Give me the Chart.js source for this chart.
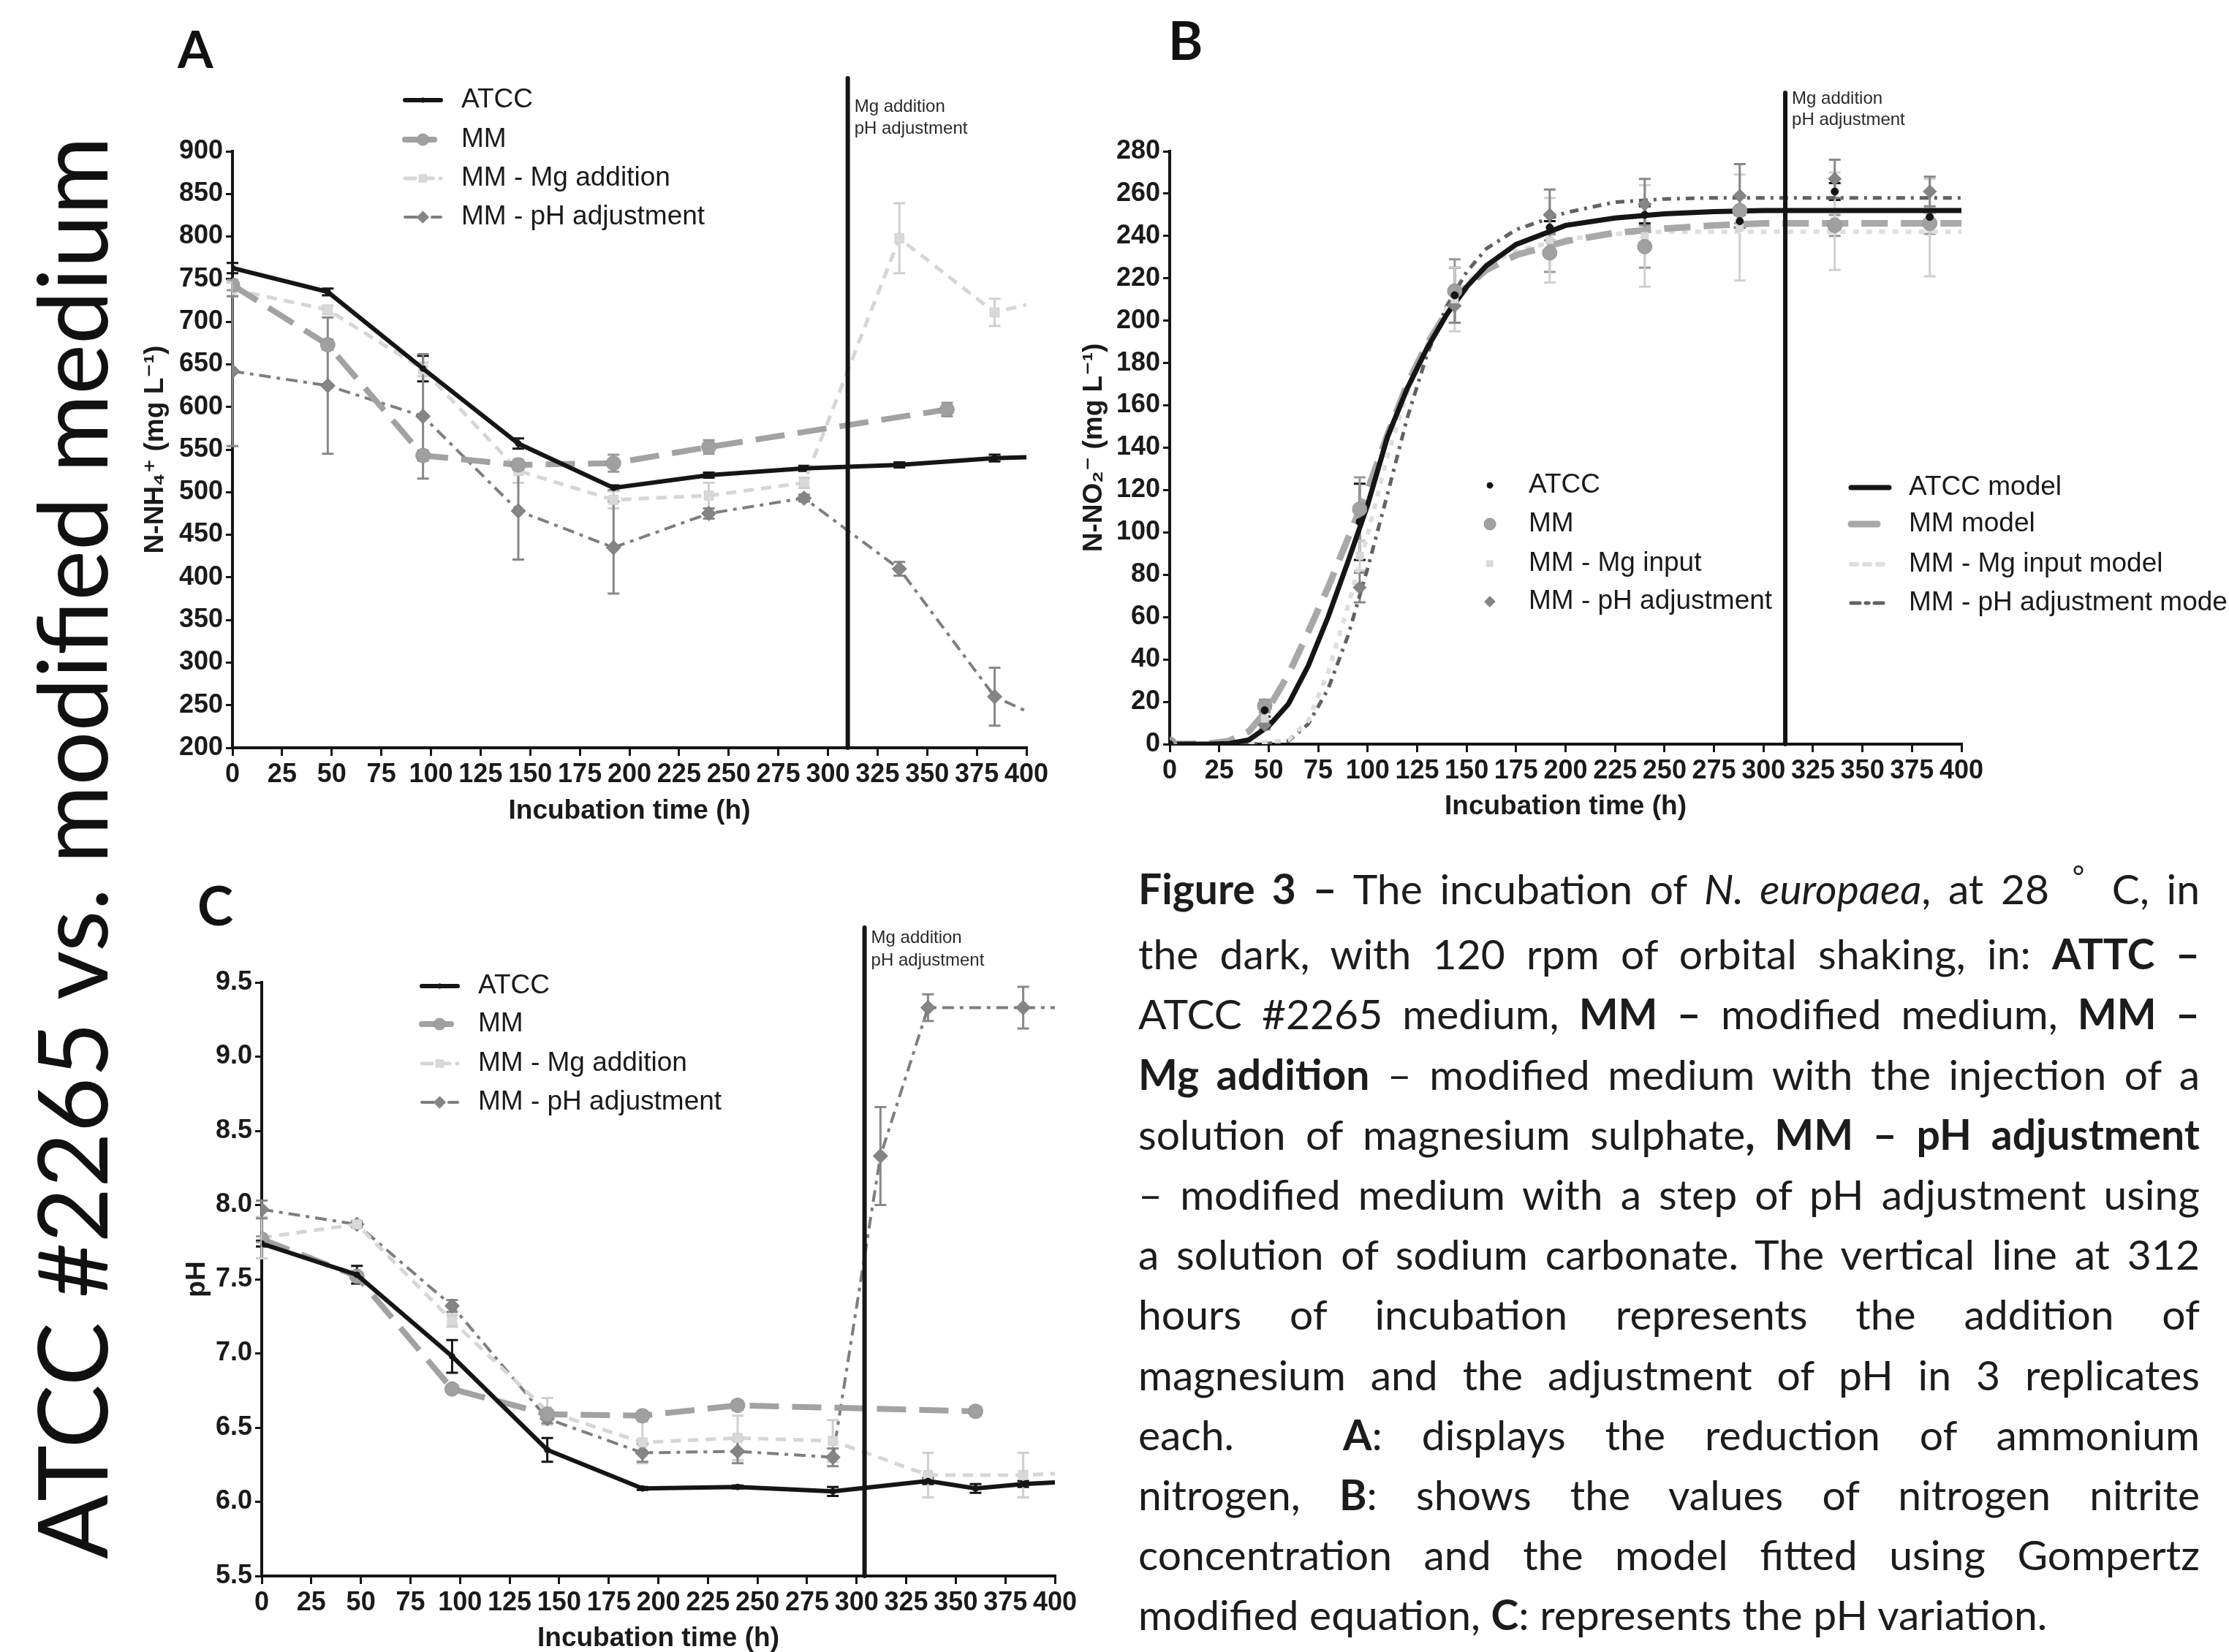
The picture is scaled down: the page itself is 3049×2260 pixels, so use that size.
<!DOCTYPE html>
<html>
<head>
<meta charset="utf-8">
<title>ATCC #2265 vs. modified medium</title>
<script src="https://cdn.jsdelivr.net/npm/chart.js@4.4.1/dist/chart.umd.min.js"></script>
<style>
  html, body { margin: 0; padding: 0; background: #fff; }
  body { position: relative; width: 3049px; height: 2260px; overflow: hidden; }
  .panel { position: absolute; }
  #overlay { position: absolute; left: 0; top: 0; pointer-events: none; }
  #caption { position: absolute; left: 1557px; top: 1174px; width: 1452px; font-family: Lato, sans-serif;
             font-size: 57px; line-height: 82.2px; color: #1c1c1c; }
  #caption div { text-align: justify; text-align-last: justify; }
  #caption div.last { text-align-last: left; }
  .deg { font-size: 0.7em; position: relative; top: -0.6em; margin: 0 0.35em 0 0.2em; }
  .gap { display: inline-block; width: 95px; }
</style>
</head>
<body>
<div class="panel" style="left:150px;top:0;width:1310px;height:1150px"><canvas id="chartA"></canvas></div>
<div class="panel" style="left:1440px;top:0;width:1609px;height:1150px"><canvas id="chartB"></canvas></div>
<div class="panel" style="left:200px;top:1180px;width:1300px;height:1100px"><canvas id="chartC"></canvas></div>

<svg id="overlay" width="3049" height="2260" xmlns="http://www.w3.org/2000/svg">
  <text transform="translate(147,2133) rotate(-90)" font-family="Lato" font-size="131" textLength="1946"
        lengthAdjust="spacingAndGlyphs" fill="#111">ATCC #2265 vs. modified medium</text>
  <text x="243" y="93" font-family="Lato" font-weight="bold" font-size="70" fill="#111">A</text>
  <text x="1598" y="82" font-family="Lato" font-weight="bold" font-size="72" fill="#111">B</text>
  <text x="270" y="1266" font-family="Lato" font-weight="bold" font-size="74" fill="#111">C</text>
</svg>

<div id="caption">
<div><b>Figure 3 –</b> The incubation of <i>N. europaea</i>, at 28 <span class="deg">°</span> C, in</div>
<div>the dark, with 120 rpm of orbital shaking, in: <b>ATTC –</b></div>
<div>ATCC #2265 medium, <b>MM –</b> modified medium, <b>MM –</b></div>
<div><b>Mg addition</b> – modified medium with the injection of a</div>
<div>solution of magnesium sulphate<b>, MM – pH adjustment</b></div>
<div>– modified medium with a step of pH adjustment using</div>
<div>a solution of sodium carbonate. The vertical line at 312</div>
<div>hours of incubation represents the addition of</div>
<div>magnesium and the adjustment of pH in 3 replicates</div>
<div>each.<span class="gap"></span> <b>A</b>: displays the reduction of ammonium</div>
<div>nitrogen, <b>B</b>: shows the values of nitrogen nitrite</div>
<div>concentration and the model fitted using Gompertz</div>
<div class="last">modified equation, <b>C</b>: represents the pH variation.</div>
</div>

<script>
// ---- panel A: N-NH4+ (mg L-1)
const timeA = [0, 48, 96, 144, 192, 240, 288, 336, 384, 400];
const atccA = [763, 735, 645, 557, 505, 520, 528, 532, 540, 541];
const atccErrA = [6, 4, 15, 6, 3, 3, 3, 3, 4, 0];
const mmTimeA = [0, 48, 96, 144, 192, 240, 360];
const mmA = [743, 673, 543, 532, 534, 553, 597];
const mmErrA = [6, 6, 6, 6, 10, 8, 8];
const mgA = [738, 714, 644, 525, 491, 496, 511, 798, 711, 720];
const mgErrA = [8, 5, 8, 14, 10, 15, 6, 41, 16, 0];
const phA = [642, 625, 589, 478, 435, 475, 493, 410, 260, 243];
const phErrA = [88, 80, 73, 57, 54, 6, 4, 8, 34, 0];

// ---- panel B: N-NO2- (mg L-1), measured points
const timeB = [0, 48, 96, 144, 192, 240, 288, 336, 384];
const atccB = [0, 16, 105, 212, 244, 250, 247, 261, 249];
const atccErrB = [0, 3, 18, 13, 3, 4, 3, 4, 3];
const mmB = [0, 18, 111, 214, 232, 235, 252, 245, 246];
const mmErrB = [0, 3, 15, 15, 9, 10, 6, 5, 5];
const mgB = [0, 12, 89, 210, 238, 240, 244, 247, 244];
const mgErrB = [0, 4, 7, 15, 20, 24, 25, 23, 23];
const phB = [0, 9, 74, 207, 250, 255, 259, 267, 261];
const phErrB = [0, 2, 7, 8, 12, 12, 15, 9, 7];

// ---- panel B: fitted model curves
const modelTimeB = [0, 20, 30, 40, 50, 60, 70, 80, 90, 100, 110, 120, 130, 140, 150, 160, 175, 200, 225, 250, 275, 300, 350, 400];
const atccModelB = [0, 0, 0.3, 2, 8.5, 19, 37, 60, 86, 113, 145, 168, 187, 203, 216, 226, 236, 245, 248.5, 250.5, 251.5, 252, 252, 252];
const mmModelB = [0, 0.3, 1.5, 6, 17, 33, 53, 74, 97, 120, 146, 170, 189, 204, 216, 224, 231, 237.5, 241.5, 243.5, 245, 246, 246, 246];
const mgModelB = [0, 0, 0, 0.3, 1, 2, 11, 34, 65, 99, 136, 166, 189, 206, 218, 226, 233, 238.5, 241, 242, 242, 242, 242, 242];
const phModelB = [0, 0, 0, 0, 0.3, 1.5, 9.5, 26, 51, 83, 118, 154, 184, 207, 223, 234, 243, 251, 256, 257.5, 258, 258, 258, 258];

// ---- panel C: pH
const timeC = [0, 48, 96, 144, 192, 240, 288, 336, 360, 384, 400];
const atccC = [7.74, 7.53, 6.98, 6.35, 6.09, 6.10, 6.07, 6.14, 6.09, 6.12, 6.13];
const atccErrC = [0.02, 0.06, 0.11, 0.08, 0.01, 0.01, 0.03, 0.02, 0.03, 0.02, 0];
const mmTimeC = [0, 48, 96, 144, 192, 240, 360];
const mmC = [7.77, 7.52, 6.76, 6.59, 6.58, 6.65, 6.61];
const mmErrC = [0.02, 0.02, 0.02, 0.03, 0.03, 0.03, 0.03];
const mgTimeC = [0, 48, 96, 144, 192, 240, 288, 336, 384, 400];
const mgC = [7.78, 7.87, 7.22, 6.61, 6.40, 6.43, 6.41, 6.18, 6.18, 6.19];
const mgErrC = [0.14, 0.02, 0.04, 0.09, 0.14, 0.15, 0.14, 0.15, 0.15, 0];
const phTimeC = [0, 48, 96, 144, 192, 240, 288, 312, 336, 384, 400];
const phC = [7.97, 7.87, 7.32, 6.56, 6.33, 6.34, 6.30, 8.33, 9.33, 9.33, 9.33];
const phErrC = [0.06, 0.02, 0.04, 0.03, 0.06, 0.08, 0.06, 0.33, 0.09, 0.14, 0];

const xTicks = { min: 0, max: 400, step: 25 };

Chart.defaults.font.family = '"Liberation Sans", Arial, "DejaVu Sans", sans-serif';
Chart.defaults.color = '#1a1a1a';

const INK = '#151515';
const styles = {
  atcc: { borderColor: INK, pointBackgroundColor: INK, pointBorderColor: INK, borderWidth: 6, borderDash: [], pointStyle: 'circle', r: 4, errorColor: INK },
  mm:   { borderColor: '#a2a2a2', pointBackgroundColor: '#a0a0a0', pointBorderColor: '#949494', borderWidth: 8, borderDash: [40, 18], pointStyle: 'circle', r: 10, errorColor: '#999' },
  mg:   { borderColor: '#d6d6d6', pointBackgroundColor: '#d9d9d9', pointBorderColor: '#cfcfcf', borderWidth: 5, borderDash: [14, 10], pointStyle: 'rect', r: 9, errorColor: '#cfcfcf' },
  ph:   { borderColor: '#7e7e7e', pointBackgroundColor: '#858585', pointBorderColor: '#7a7a7a', borderWidth: 4, borderDash: [16, 8, 5, 8], pointStyle: 'rectRot', r: 10, errorColor: '#888' }
};

function series(label, st, xs, ys, errs, hideLast) {
  return {
    label,
    data: xs.map((x, i) => ({ x, y: ys[i] })),
    errors: errs,
    errorColor: st.errorColor,
    borderColor: st.borderColor,
    borderWidth: st.borderWidth,
    borderDash: st.borderDash,
    pointStyle: st.pointStyle,
    pointBackgroundColor: st.pointBackgroundColor,
    pointBorderColor: st.pointBorderColor,
    pointBorderWidth: 1,
    pointRadius: xs.map((x, i) => (hideLast && i === xs.length - 1) ? 0 : st.r),
    pointHoverRadius: 0,
    fill: false,
    tension: 0
  };
}

// error bars, the 312 h marker line and the in-plot legends
const figExtras = {
  id: 'figExtras',
  beforeDatasetsDraw(chart) {
    const ctx = chart.ctx, ys = chart.scales.y;
    chart.data.datasets.forEach((ds, i) => {
      if (!ds.errors) return;
      const meta = chart.getDatasetMeta(i);
      ctx.save();
      ctx.strokeStyle = ds.errorColor;
      ctx.lineWidth = 3;
      meta.data.forEach((el, j) => {
        const e = ds.errors[j];
        if (!e) return;
        const v = ds.data[j].y;
        const top = ys.getPixelForValue(v + e), bot = ys.getPixelForValue(v - e);
        ctx.beginPath();
        ctx.moveTo(el.x, top); ctx.lineTo(el.x, bot);
        ctx.moveTo(el.x - 8, top); ctx.lineTo(el.x + 8, top);
        ctx.moveTo(el.x - 8, bot); ctx.lineTo(el.x + 8, bot);
        ctx.stroke();
      });
      ctx.restore();
    });
  },
  afterDraw(chart, args, o) {
    const ctx = chart.ctx;
    const xp = chart.scales.x.getPixelForValue(o.markX);
    ctx.save();
    ctx.strokeStyle = INK; ctx.lineWidth = 6; ctx.lineCap = 'round';
    ctx.beginPath(); ctx.moveTo(xp, o.markTop); ctx.lineTo(xp, chart.chartArea.bottom); ctx.stroke();
    ctx.fillStyle = '#2a2a2a';
    ctx.font = '24px "Liberation Sans", Arial, sans-serif';
    ctx.textBaseline = 'middle'; ctx.textAlign = 'left';
    o.markText.forEach(([y, t]) => ctx.fillText(t, xp + 9, y));

    ctx.font = '37px "Liberation Sans", Arial, sans-serif';
    ctx.fillStyle = '#1a1a1a';
    o.legend.forEach(g => g.items.forEach((idx, k) => {
      const ds = chart.data.datasets[idx], y = g.ys[k];
      if (g.line) {
        ctx.save();
        ctx.strokeStyle = ds.borderColor; ctx.lineWidth = ds.borderWidth;
        ctx.setLineDash(ds.borderDash || []);
        ctx.beginPath(); ctx.moveTo(g.x0, y); ctx.lineTo(g.x1, y); ctx.stroke();
        ctx.restore();
      }
      if (g.marker) {
        ctx.save();
        ctx.fillStyle = ds.pointBackgroundColor; ctx.strokeStyle = ds.pointBorderColor; ctx.lineWidth = 1;
        const r = Array.isArray(ds.pointRadius) ? ds.pointRadius[0] : ds.pointRadius;
        Chart.helpers.drawPoint(ctx, { pointStyle: ds.pointStyle, radius: r * 0.8, rotation: 0, borderWidth: 1 }, (g.x0 + g.x1) / 2, y);
        ctx.restore();
      }
      ctx.fillText(ds.label, g.tx, y);
    }));
    ctx.restore();
  }
};

const tickFont = { size: 36, weight: 'bold' };
const titleFont = { size: 37, weight: 'bold' };

function xAxis(h, padB) {
  return {
    type: 'linear', min: xTicks.min, max: xTicks.max,
    ticks: { stepSize: xTicks.step, autoSkip: false, maxRotation: 0, minRotation: 0, font: tickFont, color: '#1a1a1a', padding: 4 },
    grid: { drawOnChartArea: false, drawTicks: true, tickLength: 11, color: INK, lineWidth: 3 },
    border: { color: INK, width: 4 },
    title: { display: true, text: 'Incubation time (h)', font: titleFont, color: '#1a1a1a', padding: { top: 0, bottom: padB } },
    afterFit: s => { s.height = h; }
  };
}

function yAxis(min, max, step, label, w, padT, fmt) {
  const ticks = { stepSize: step, font: tickFont, color: '#1a1a1a', padding: 4 };
  if (fmt) ticks.callback = fmt;
  return {
    type: 'linear', min, max, ticks,
    grid: { drawOnChartArea: false, drawTicks: true, tickLength: 9, color: INK, lineWidth: 3 },
    border: { color: INK, width: 4 },
    title: { display: true, text: label, font: titleFont, color: '#1a1a1a', padding: { top: padT, bottom: 0 } },
    afterFit: s => { s.width = w; }
  };
}

function makeChart(id, datasets, scales, padding, extras) {
  return new Chart(document.getElementById(id), {
    type: 'line',
    data: { datasets },
    options: {
      responsive: true, maintainAspectRatio: false, animation: false, devicePixelRatio: 1,
      layout: { padding },
      plugins: { legend: { display: false }, tooltip: { enabled: false }, figExtras: extras },
      scales
    },
    plugins: [figExtras]
  });
}

// ---- A
makeChart('chartA', [
  series('ATCC', styles.atcc, timeA, atccA, atccErrA, true),
  series('MM', styles.mm, mmTimeA, mmA, mmErrA, false),
  series('MM - Mg addition', styles.mg, timeA, mgA, mgErrA, true),
  series('MM - pH adjustment', styles.ph, timeA, phA, phErrA, true)
], {
  x: xAxis(127, 18),
  y: yAxis(200, 900, 50, 'N-NH₄⁺ (mg L⁻¹)', 168, 41)
}, { top: 207, right: 56, bottom: 0, left: 0 }, {
  markX: 310, markTop: 107, markText: [[146, 'Mg addition'], [176, 'pH adjustment']],
  legend: [{ items: [0, 1, 2, 3], x0: 404, x1: 453, tx: 481, ys: [137, 191, 244, 297], line: true, marker: true }]
});

// ---- B
function points(label, st, ys, errs, r) {
  const ds = series(label, st, timeB, ys, errs, false);
  ds.showLine = false;
  ds.pointRadius = r;
  return ds;
}
function model(label, st, ys) {
  const ds = series(label, st, modelTimeB, ys, null, false);
  ds.pointRadius = 0;
  ds.errors = null;
  return ds;
}
const modelStyles = {
  atcc: Object.assign({}, styles.atcc, { borderWidth: 7 }),
  mm: Object.assign({}, styles.mm, { borderColor: '#a8a8a8', borderWidth: 9, borderDash: [36, 18] }),
  mg: Object.assign({}, styles.mg, { borderColor: '#dedede', borderWidth: 6, borderDash: [8, 10] }),
  ph: Object.assign({}, styles.ph, { borderColor: '#626262', borderWidth: 5, borderDash: [12, 8, 4, 8] })
};
makeChart('chartB', [
  points('ATCC', styles.atcc, atccB, atccErrB, 5),
  points('MM', styles.mm, mmB, mmErrB, 10),
  points('MM - Mg input', styles.mg, mgB, mgErrB, 7),
  points('MM - pH adjustment', styles.ph, phB, phErrB, 9),
  model('ATCC model', modelStyles.atcc, atccModelB),
  model('MM model', modelStyles.mm, mmModelB),
  model('MM - Mg input model', modelStyles.mg, mgModelB),
  model('MM - pH adjustment model', modelStyles.ph, phModelB)
], {
  x: xAxis(132, 24),
  y: yAxis(0, 280, 20, 'N-NO₂⁻ (mg L⁻¹)', 160, 35)
}, { top: 207, right: 366, bottom: 0, left: 0 }, {
  markX: 311, markTop: 127, markText: [[135, 'Mg addition'], [164, 'pH adjustment']],
  legend: [
    { items: [0, 1, 2, 3], x0: 598, x1: 598, tx: 651, ys: [664, 717, 771, 823], line: false, marker: true },
    { items: [4, 5, 6, 7], x0: 1092, x1: 1144, tx: 1171, ys: [667, 717, 772, 825], line: true, marker: false }
  ]
});

// ---- C
makeChart('chartC', [
  series('ATCC', styles.atcc, timeC, atccC, atccErrC, true),
  series('MM', styles.mm, mmTimeC, mmC, mmErrC, false),
  series('MM - Mg addition', styles.mg, mgTimeC, mgC, mgErrC, true),
  series('MM - pH adjustment', styles.ph, phTimeC, phC, phErrC, true)
], {
  x: xAxis(124, 16),
  y: yAxis(5.5, 9.5, 0.5, 'pH', 158, 48, v => v.toFixed(1))
}, { top: 164, right: 57, bottom: 0, left: 0 }, {
  markX: 304, markTop: 89, markText: [[103, 'Mg addition'], [134, 'pH adjustment']],
  legend: [{ items: [0, 1, 2, 3], x0: 377, x1: 426, tx: 454, ys: [169, 221, 275, 328], line: true, marker: true }]
});
</script>
</body>
</html>
